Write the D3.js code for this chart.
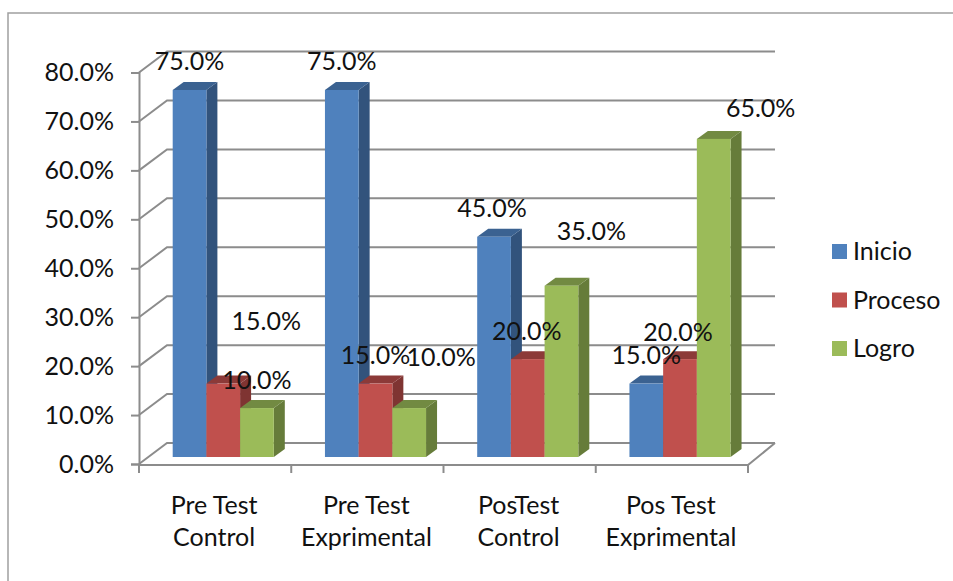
<!DOCTYPE html>
<html>
<head>
<meta charset="utf-8">
<script src="https://cdn.jsdelivr.net/npm/d3@7"></script>
<style>
    html, body { margin: 0; padding: 0; background: #fff; }
    svg { display: block; }
    text { font-family: Lato, "Open Sans", sans-serif; fill: #111; }
</style>
</head>
<body>
<svg id="chart" width="953" height="581"></svg>
<script>
const categories = [["Pre Test", "Control"], ["Pre Test", "Exprimental"], ["PosTest", "Control"], ["Pos Test", "Exprimental"]];
const seriesNames = ["Inicio", "Proceso", "Logro"];
const inicio = [75, 75, 45, 15];
const proceso = [15, 15, 20, 20];
const logro = [10, 10, 35, 65];
const yTicks = [0, 10, 20, 30, 40, 50, 60, 70, 80];

const FONT_SIZE = 25;
const GRID = "#8c8c8c";
const WALL_DX = 28;       // back wall offset from the front axis plane
const WALL_DY = -21;
const BAR_DX = 11;        // depth of one bar
const BAR_DY = -8;
const BAR_SHIFT_Y = -7;   // bars stand a bit behind the front edge of the floor

const faces = [
    { front: "#4f81bd", side: "#32537c", top: "#3b6291" },
    { front: "#c0504d", side: "#7f3432", top: "#8c3a38" },
    { front: "#9bbb59", side: "#667c3a", top: "#728a42" }
];

// Excel moved some labels by hand: [dx, dy] from the top middle of the bar, per series, per category
const labelShift = [
    [[0, -20], [0, -20], [-2, -20], [0, -20]],
    [[43, -54], [0, -20], [-1, -19], [-2, -18]],
    [[0, -19], [32, -42], [30, -46], [47, -22]]
];

const svg = d3.select("#chart");
const x = d3.scaleBand().domain(d3.range(categories.length)).range([139, 748]);
const y = d3.scaleLinear().domain([0, 80]).range([464, 72.5]);
const xBar = d3.scaleBand().domain(d3.range(seriesNames.length)).range([33.7, 134.8]);
const values = [inicio, proceso, logro];

// picture frame, only top and left edges show
svg.append("path")
    .attr("d", "M8,581V13H953")
    .attr("fill", "none")
    .attr("stroke", "#a0a0a0")
    .attr("stroke-width", 1.5);

// walls and floor
const grid = svg.append("g")
    .attr("fill", "none")
    .attr("stroke", GRID)
    .attr("stroke-width", 2);

grid.selectAll("path.wall").data(yTicks).join("path")
    .attr("class", "wall")
    .attr("d", (d) => `M${x.range()[0]},${y(d)}l${WALL_DX},${WALL_DY}H${x.range()[1] + WALL_DX - 1}`);

grid.append("path")
    .attr("d", `M${x.range()[0]},${y(0) + 1}H${x.range()[1]}L${x.range()[1] + WALL_DX - 1},${y(0) + WALL_DY}`);

// value axis
const yAxis = d3.axisLeft(y)
    .tickValues(yTicks)
    .tickSize(8)
    .tickPadding(17)
    .tickFormat((d) => d3.format(".1f")(d) + "%");

const yg = svg.append("g")
    .attr("transform", `translate(${x.range()[0]},0)`)
    .call(yAxis);
yg.selectAll("path, line").attr("stroke", GRID).attr("stroke-width", 2);
yg.selectAll("text").attr("font-size", FONT_SIZE).style("font-family", "Lato").attr("fill", "#111");

// category ticks on band edges
svg.append("g").selectAll("line").data(d3.range(categories.length + 1)).join("line")
    .attr("x1", (i) => x.range()[0] + i * x.step())
    .attr("x2", (i) => x.range()[0] + i * x.step())
    .attr("y1", y(0))
    .attr("y2", y(0) + 9)
    .attr("stroke", GRID)
    .attr("stroke-width", 2);

// category labels
const catLabels = svg.append("g").selectAll("text").data(categories).join("text")
    .attr("text-anchor", "middle")
    .attr("font-size", FONT_SIZE);
catLabels.selectAll("tspan").data((d, i) => d.map((line) => ({ line, i }))).join("tspan")
    .attr("x", (d) => x(d.i) + x.bandwidth() / 2 - 1)
    .attr("y", (d, j) => 514 + j * 32)
    .text((d) => d.line);

// bars
const bars = values.flatMap((vals, s) => vals.map((v, c) => ({ s, c, v })));
const barX = (d) => x(d.c) + xBar(d.s);
const barTop = (d) => y(d.v) + BAR_SHIFT_Y;
const barBase = y(0) + BAR_SHIFT_Y;
const w = xBar.bandwidth();

const barG = svg.append("g").selectAll("g").data(bars).join("g");
barG.append("path")
    .attr("fill", (d) => faces[d.s].side)
    .attr("d", (d) => `M${barX(d) + w},${barTop(d)}l${BAR_DX},${BAR_DY}V${barBase + BAR_DY}l${-BAR_DX},${-BAR_DY}Z`);
barG.append("path")
    .attr("fill", (d) => faces[d.s].top)
    .attr("d", (d) => `M${barX(d)},${barTop(d)}l${BAR_DX},${BAR_DY}h${w}l${-BAR_DX},${-BAR_DY}Z`);
barG.append("rect")
    .attr("fill", (d) => faces[d.s].front)
    .attr("x", barX)
    .attr("y", barTop)
    .attr("width", w)
    .attr("height", (d) => barBase - barTop(d));

// data labels
svg.append("g").selectAll("text").data(bars).join("text")
    .attr("text-anchor", "middle")
    .attr("font-size", FONT_SIZE)
    .attr("x", (d) => barX(d) + w / 2 + labelShift[d.s][d.c][0])
    .attr("y", (d) => barTop(d) + labelShift[d.s][d.c][1])
    .text((d) => d3.format(".1f")(d.v) + "%");

// legend
const legend = svg.append("g").selectAll("g").data(seriesNames).join("g")
    .attr("transform", (d, i) => `translate(832,${244 + i * 48.5})`);
legend.append("rect")
    .attr("width", 15)
    .attr("height", 15)
    .attr("fill", (d, i) => faces[i].front);
legend.append("text")
    .attr("x", 21)
    .attr("y", 16)
    .attr("font-size", FONT_SIZE)
    .text((d) => d);
</script>
</body>
</html>
